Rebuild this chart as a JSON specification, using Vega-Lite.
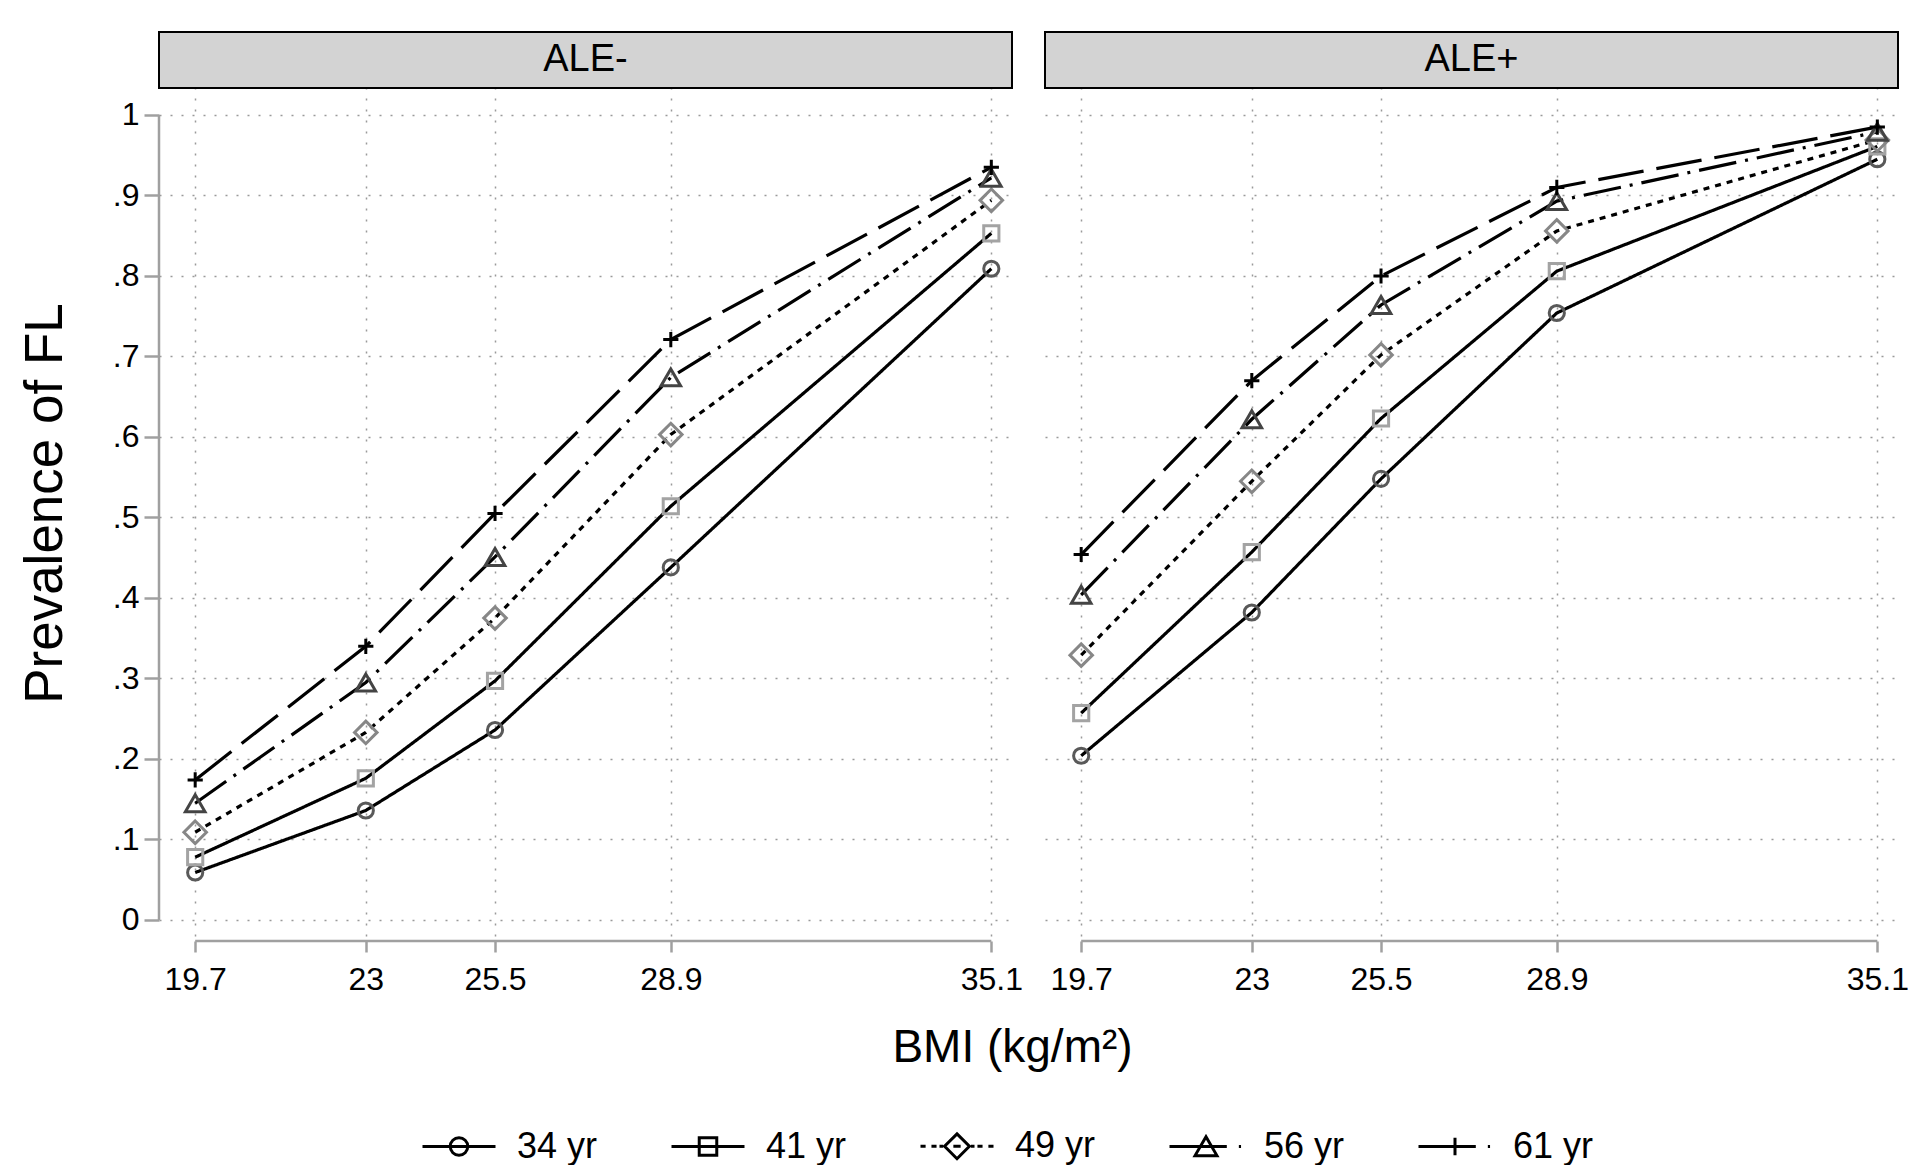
{
  "$schema": "https://vega.github.io/schema/vega-lite/v6.json",
  "background": "white",
  "padding": {"left": 19, "top": 31, "right": 10, "bottom": 0},
  "config": {
    "font": "Liberation Sans",
    "view": {"stroke": null},
    "axis": {
      "labelFont": "Liberation Sans",
      "titleFont": "Liberation Sans",
      "labelFontSize": 32,
      "labelColor": "#000000",
      "titleColor": "#000000",
      "titleFontWeight": "normal",
      "tickColor": "#a0a0a0",
      "tickWidth": 2.5,
      "domain": false,
      "gridColor": "#9a9a9a",
      "gridDash": [2, 9],
      "gridWidth": 1.5,
      "gridOpacity": 1,
      "labelFlush": false,
      "labelOverlap": false,
      "labelBound": false
    }
  },
  "data": {
    "values": [
      {"panel": "ALE-", "age": "34 yr", "bmi": 19.7, "prev": 0.059},
      {"panel": "ALE-", "age": "34 yr", "bmi": 23, "prev": 0.136},
      {"panel": "ALE-", "age": "34 yr", "bmi": 25.5, "prev": 0.236},
      {"panel": "ALE-", "age": "34 yr", "bmi": 28.9, "prev": 0.438},
      {"panel": "ALE-", "age": "34 yr", "bmi": 35.1, "prev": 0.809},
      {"panel": "ALE-", "age": "41 yr", "bmi": 19.7, "prev": 0.078},
      {"panel": "ALE-", "age": "41 yr", "bmi": 23, "prev": 0.176},
      {"panel": "ALE-", "age": "41 yr", "bmi": 25.5, "prev": 0.297},
      {"panel": "ALE-", "age": "41 yr", "bmi": 28.9, "prev": 0.514},
      {"panel": "ALE-", "age": "41 yr", "bmi": 35.1, "prev": 0.853},
      {"panel": "ALE-", "age": "49 yr", "bmi": 19.7, "prev": 0.109},
      {"panel": "ALE-", "age": "49 yr", "bmi": 23, "prev": 0.233},
      {"panel": "ALE-", "age": "49 yr", "bmi": 25.5, "prev": 0.375},
      {"panel": "ALE-", "age": "49 yr", "bmi": 28.9, "prev": 0.603},
      {"panel": "ALE-", "age": "49 yr", "bmi": 35.1, "prev": 0.894},
      {"panel": "ALE-", "age": "56 yr", "bmi": 19.7, "prev": 0.145},
      {"panel": "ALE-", "age": "56 yr", "bmi": 23, "prev": 0.295},
      {"panel": "ALE-", "age": "56 yr", "bmi": 25.5, "prev": 0.451},
      {"panel": "ALE-", "age": "56 yr", "bmi": 28.9, "prev": 0.674},
      {"panel": "ALE-", "age": "56 yr", "bmi": 35.1, "prev": 0.922},
      {"panel": "ALE-", "age": "61 yr", "bmi": 19.7, "prev": 0.174},
      {"panel": "ALE-", "age": "61 yr", "bmi": 23, "prev": 0.340},
      {"panel": "ALE-", "age": "61 yr", "bmi": 25.5, "prev": 0.505},
      {"panel": "ALE-", "age": "61 yr", "bmi": 28.9, "prev": 0.721},
      {"panel": "ALE-", "age": "61 yr", "bmi": 35.1, "prev": 0.935},
      {"panel": "ALE+", "age": "34 yr", "bmi": 19.7, "prev": 0.204},
      {"panel": "ALE+", "age": "34 yr", "bmi": 23, "prev": 0.382},
      {"panel": "ALE+", "age": "34 yr", "bmi": 25.5, "prev": 0.548},
      {"panel": "ALE+", "age": "34 yr", "bmi": 28.9, "prev": 0.754},
      {"panel": "ALE+", "age": "34 yr", "bmi": 35.1, "prev": 0.945},
      {"panel": "ALE+", "age": "41 yr", "bmi": 19.7, "prev": 0.257},
      {"panel": "ALE+", "age": "41 yr", "bmi": 23, "prev": 0.457},
      {"panel": "ALE+", "age": "41 yr", "bmi": 25.5, "prev": 0.623},
      {"panel": "ALE+", "age": "41 yr", "bmi": 28.9, "prev": 0.806},
      {"panel": "ALE+", "age": "41 yr", "bmi": 35.1, "prev": 0.961},
      {"panel": "ALE+", "age": "49 yr", "bmi": 19.7, "prev": 0.329},
      {"panel": "ALE+", "age": "49 yr", "bmi": 23, "prev": 0.545},
      {"panel": "ALE+", "age": "49 yr", "bmi": 25.5, "prev": 0.702},
      {"panel": "ALE+", "age": "49 yr", "bmi": 28.9, "prev": 0.856},
      {"panel": "ALE+", "age": "49 yr", "bmi": 35.1, "prev": 0.969},
      {"panel": "ALE+", "age": "56 yr", "bmi": 19.7, "prev": 0.404},
      {"panel": "ALE+", "age": "56 yr", "bmi": 23, "prev": 0.622},
      {"panel": "ALE+", "age": "56 yr", "bmi": 25.5, "prev": 0.764},
      {"panel": "ALE+", "age": "56 yr", "bmi": 28.9, "prev": 0.893},
      {"panel": "ALE+", "age": "56 yr", "bmi": 35.1, "prev": 0.979},
      {"panel": "ALE+", "age": "61 yr", "bmi": 19.7, "prev": 0.454},
      {"panel": "ALE+", "age": "61 yr", "bmi": 23, "prev": 0.670},
      {"panel": "ALE+", "age": "61 yr", "bmi": 25.5, "prev": 0.800},
      {"panel": "ALE+", "age": "61 yr", "bmi": 28.9, "prev": 0.910},
      {"panel": "ALE+", "age": "61 yr", "bmi": 35.1, "prev": 0.985}
    ]
  },
  "bounds": "flush",
  "spacing": 33,
  "hconcat": [
    {
      "width": 853,
      "height": 909,
      "transform": [{"filter": "datum.panel === 'ALE-'"}],
      "resolve": {"scale": {"shape": "independent"}},
      "layer": [
        {
          "mark": {"type": "line", "color": "#000000", "strokeWidth": 3.2},
          "encoding": {
            "x": {"field": "bmi", "type": "quantitative",
              "scale": {"domain": [19.0, 35.5], "nice": false, "zero": false},
              "axis": {"values": [19.7, 23, 25.5, 28.9, 35.1], "labelExpr": "toString(datum.value)", "title": null, "tickSize": 11, "labelPadding": 12, "grid": true}},
            "y": {"field": "prev", "type": "quantitative",
              "scale": {"domain": [-0.0261, 1.1031], "nice": false, "zero": false},
              "axis": {"values": [0, 0.1, 0.2, 0.3, 0.4, 0.5, 0.6, 0.7, 0.8, 0.9, 1],
                "labelExpr": "replace(format(datum.value, '.1~f'), '0.', '.')",
                "title": "Prevalence of FL", "titleFontSize": 53, "titlePadding": 40, "titleY": 471,
                "tickSize": 15, "labelPadding": 5, "grid": true}},
            "strokeDash": {"field": "age", "type": "nominal",
              "scale": {"domain": ["34 yr", "41 yr", "49 yr", "56 yr", "61 yr"], "range": [[1, 0], [1, 0], [6, 6], [38, 9, 3, 9], [46, 13]]},
              "legend": null}
          }
        },
        {
          "mark": {"type": "point", "filled": false, "strokeWidth": 3, "opacity": 1, "size": 600},
          "encoding": {
            "x": {"field": "bmi", "type": "quantitative"},
            "y": {"field": "prev", "type": "quantitative"},
            "shape": {"field": "age", "type": "nominal",
              "scale": {"domain": ["34 yr", "41 yr", "49 yr", "56 yr", "61 yr"],
                "range": [
                  "M0.62,0C0.62,0.342 0.342,0.62 0,0.62C-0.342,0.62 -0.62,0.342 -0.62,0C-0.62,-0.342 -0.342,-0.62 0,-0.62C0.342,-0.62 0.62,-0.342 0.62,0Z",
                  "M-0.62,-0.62H0.62V0.62H-0.62Z",
                  "M0,-0.92L0.92,0L0,0.92L-0.92,0Z",
                  "M0,-0.69L0.8,0.69L-0.8,0.69Z",
                  "M-0.62,0H0.62M0,-0.62V0.62"
                ]},
              "legend": null},
            "stroke": {"field": "age", "type": "nominal",
              "scale": {"domain": ["34 yr", "41 yr", "49 yr", "56 yr", "61 yr"], "range": ["#595959", "#a3a3a3", "#878787", "#444444", "#000000"]},
              "legend": null}
          }
        },
        {
          "mark": {"type": "point", "filled": false, "opacity": 0, "stroke": "#000000", "strokeWidth": 3, "size": 5329},
          "encoding": {
            "x": {"field": "bmi", "type": "quantitative"},
            "y": {"field": "prev", "type": "quantitative"},
            "shape": {"field": "age", "type": "nominal",
              "scale": {"range": [
                "M-1,0H1M0.24,0C0.24,0.133 0.133,0.24 0,0.24C-0.133,0.24 -0.24,0.133 -0.24,0C-0.24,-0.133 -0.133,-0.24 0,-0.24C0.133,-0.24 0.24,-0.133 0.24,0Z",
                "M-1,0H1M-0.24,-0.24H0.24V0.24H-0.24Z",
                "M-1,0H-0.86M-0.7,0H-0.56M-0.48,0H-0.38M-0.1,0H0.1M0.38,0H0.48M0.56,0H0.7M0.86,0H1M0,-0.34L0.34,0L0,0.34L-0.34,0Z",
                "M-1,0H0.57M0.9,0H0.96M0,-0.27L0.3,0.25L-0.3,0.25Z",
                "M-1,0H0.57M0.9,0H0.96M0,-0.24V0.24"
              ]},
              "legend": {
                "title": null, "orient": "none", "legendX": 262, "legendY": 1076, "direction": "horizontal",
                "labelFont": "Liberation Sans", "labelFontSize": 36, "labelColor": "#000000", "labelOffset": 20,
                "columnPadding": 67, "symbolSize": 5329, "symbolStrokeWidth": 3,
                "symbolStrokeColor": "#000000", "symbolFillColor": "transparent", "symbolOpacity": 1
              }}
          }
        },
        {
          "transform": [{"aggregate": [{"op": "count", "as": "n"}], "groupby": ["panel"]}],
          "mark": {"type": "rule", "color": "#a0a0a0", "strokeWidth": 2.5},
          "encoding": {"x": {"datum": 19.0}, "y": {"datum": 0}, "y2": {"datum": 1}}
        },
        {
          "transform": [{"aggregate": [{"op": "count", "as": "n"}], "groupby": ["panel"]}],
          "mark": {"type": "rule", "color": "#a0a0a0", "strokeWidth": 2.5},
          "encoding": {"x": {"datum": 19.7}, "x2": {"datum": 35.1}, "y": {"datum": -0.0261}}
        },
        {
          "transform": [{"aggregate": [{"op": "count", "as": "n"}], "groupby": ["panel"]}],
          "mark": {"type": "rect", "fill": "#d3d3d3", "stroke": "#000000", "strokeWidth": 2},
          "encoding": {"x": {"datum": 19.0}, "x2": {"datum": 35.5}, "y": {"datum": 1.0335}, "y2": {"datum": 1.1031}}
        },
        {
          "transform": [{"aggregate": [{"op": "count", "as": "n"}], "groupby": ["panel"]}],
          "mark": {"type": "text", "fontSize": 38, "font": "Liberation Sans", "color": "#000000", "align": "center", "baseline": "middle"},
          "encoding": {"x": {"datum": 27.25}, "y": {"datum": 1.0683}, "text": {"field": "panel"}}
        }
      ]
    },
    {
      "width": 853,
      "height": 909,
      "transform": [{"filter": "datum.panel === 'ALE+'"}],
      "layer": [
        {
          "mark": {"type": "line", "color": "#000000", "strokeWidth": 3.2},
          "encoding": {
            "x": {"field": "bmi", "type": "quantitative",
              "scale": {"domain": [19.0, 35.5], "nice": false, "zero": false},
              "axis": {"values": [19.7, 23, 25.5, 28.9, 35.1], "labelExpr": "toString(datum.value)", "title": "BMI (kg/m²)", "titleFontSize": 46, "titleX": -33, "titleAlign": "center", "titlePadding": 30, "tickSize": 11, "labelPadding": 12, "grid": true}},
            "y": {"field": "prev", "type": "quantitative",
              "scale": {"domain": [-0.0261, 1.1031], "nice": false, "zero": false},
              "axis": {"values": [0, 0.1, 0.2, 0.3, 0.4, 0.5, 0.6, 0.7, 0.8, 0.9, 1], "labels": false, "ticks": false, "title": null, "grid": true}},
            "strokeDash": {"field": "age", "type": "nominal",
              "scale": {"domain": ["34 yr", "41 yr", "49 yr", "56 yr", "61 yr"], "range": [[1, 0], [1, 0], [6, 6], [38, 9, 3, 9], [46, 13]]},
              "legend": null}
          }
        },
        {
          "mark": {"type": "point", "filled": false, "strokeWidth": 3, "opacity": 1, "size": 600},
          "encoding": {
            "x": {"field": "bmi", "type": "quantitative"},
            "y": {"field": "prev", "type": "quantitative"},
            "shape": {"field": "age", "type": "nominal",
              "scale": {"domain": ["34 yr", "41 yr", "49 yr", "56 yr", "61 yr"],
                "range": [
                  "M0.62,0C0.62,0.342 0.342,0.62 0,0.62C-0.342,0.62 -0.62,0.342 -0.62,0C-0.62,-0.342 -0.342,-0.62 0,-0.62C0.342,-0.62 0.62,-0.342 0.62,0Z",
                  "M-0.62,-0.62H0.62V0.62H-0.62Z",
                  "M0,-0.92L0.92,0L0,0.92L-0.92,0Z",
                  "M0,-0.69L0.8,0.69L-0.8,0.69Z",
                  "M-0.62,0H0.62M0,-0.62V0.62"
                ]},
              "legend": null},
            "stroke": {"field": "age", "type": "nominal",
              "scale": {"domain": ["34 yr", "41 yr", "49 yr", "56 yr", "61 yr"], "range": ["#595959", "#a3a3a3", "#878787", "#444444", "#000000"]},
              "legend": null}
          }
        },
        {
          "transform": [{"aggregate": [{"op": "count", "as": "n"}], "groupby": ["panel"]}],
          "mark": {"type": "rule", "color": "#a0a0a0", "strokeWidth": 2.5},
          "encoding": {"x": {"datum": 19.7}, "x2": {"datum": 35.1}, "y": {"datum": -0.0261}}
        },
        {
          "transform": [{"aggregate": [{"op": "count", "as": "n"}], "groupby": ["panel"]}],
          "mark": {"type": "rect", "fill": "#d3d3d3", "stroke": "#000000", "strokeWidth": 2},
          "encoding": {"x": {"datum": 19.0}, "x2": {"datum": 35.5}, "y": {"datum": 1.0335}, "y2": {"datum": 1.1031}}
        },
        {
          "transform": [{"aggregate": [{"op": "count", "as": "n"}], "groupby": ["panel"]}],
          "mark": {"type": "text", "fontSize": 38, "font": "Liberation Sans", "color": "#000000", "align": "center", "baseline": "middle"},
          "encoding": {"x": {"datum": 27.25}, "y": {"datum": 1.0683}, "text": {"field": "panel"}}
        }
      ]
    }
  ]
}
